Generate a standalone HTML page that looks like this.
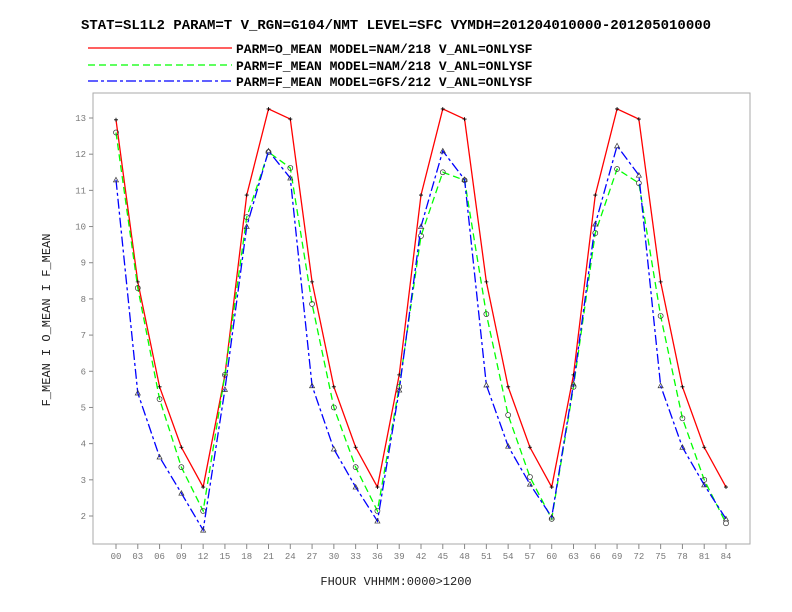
<!DOCTYPE html>
<html><head><meta charset="utf-8"><style>
body{margin:0;background:#fff;}
svg{display:block;font-family:"Liberation Mono","DejaVu Sans Mono",monospace;}
</style></head><body>
<svg id="c" width="792" height="612" viewBox="0 0 792 612">
<text x="396" y="29" text-anchor="middle" font-size="14" font-weight="bold">STAT=SL1L2 PARAM=T V_RGN=G104/NMT LEVEL=SFC VYMDH=201204010000-201205010000</text>
<g>
<line x1="88" y1="48" x2="232" y2="48" stroke="#f00" stroke-width="1.3"/>
<text x="236" y="53" font-size="13" font-weight="bold">PARM=O_MEAN MODEL=NAM/218 V_ANL=ONLYSF</text>
<line x1="88" y1="65" x2="232" y2="65" stroke="#0f0" stroke-width="1.3" stroke-dasharray="7,4"/>
<text x="236" y="70" font-size="13" font-weight="bold">PARM=F_MEAN MODEL=NAM/218 V_ANL=ONLYSF</text>
<line x1="88" y1="81" x2="232" y2="81" stroke="#00f" stroke-width="1.3" stroke-dasharray="10,3,3,3"/>
<text x="236" y="86" font-size="13" font-weight="bold">PARM=F_MEAN MODEL=GFS/212 V_ANL=ONLYSF</text>
</g>
<rect x="93" y="93" width="657" height="451" fill="none" stroke="#aaa" stroke-width="1"/>
<text transform="translate(50,320) rotate(-90)" text-anchor="middle" font-size="12" fill="#222">F_MEAN I O_MEAN I F_MEAN</text>
<text x="396" y="585" text-anchor="middle" font-size="12" fill="#222">FHOUR VHHMM:0000&gt;1200</text>
<g id="axes"></g><g id="series"></g>
</svg>
<script>
const categories=["00","03","06","09","12","15","18","21","24","27","30","33","36","39","42","45","48","51","54","57","60","63","66","69","72","75","78","81","84"];
const yTicks=[2,3,4,5,6,7,8,9,10,11,12,13];
const oMeanNam=[12.95,8.47,5.57,3.9,2.8,5.9,10.87,13.25,12.97,8.47,5.57,3.9,2.8,5.9,10.87,13.25,12.97,8.47,5.57,3.9,2.8,5.9,10.87,13.25,12.97,8.47,5.57,3.9,2.8];
const fMeanNam=[12.6,8.3,5.23,3.35,2.14,5.9,10.26,12.06,11.62,7.86,5.0,3.35,2.14,5.57,9.74,11.5,11.28,7.58,4.79,3.08,1.92,5.57,9.82,11.59,11.2,7.53,4.7,3.0,1.8];
const fMeanGfs=[11.29,5.4,3.63,2.63,1.61,5.5,10.0,12.09,11.34,5.6,3.85,2.8,1.86,5.48,10.0,12.09,11.3,5.62,3.93,2.88,1.97,5.65,10.07,12.23,11.42,5.6,3.9,2.86,1.92];
const NS="http://www.w3.org/2000/svg";
const xs=i=>116+i*(726-116)/(categories.length-1);
const ys=v=>516-(v-2)*(516-118)/11;
const ax=document.getElementById('axes'),sg=document.getElementById('series');
function mk(tag,attrs,parent){const e=document.createElementNS(NS,tag);for(const k in attrs)e.setAttribute(k,attrs[k]);parent.appendChild(e);return e;}
categories.forEach((c,i)=>{
 const t=mk('line',{x1:xs(i),x2:xs(i),y1:544,y2:549,stroke:'#888'},ax);
 
 
 const l=mk('text',{x:xs(i),y:559,'text-anchor':'middle','font-size':9,fill:'#777'},ax);
 
 
 l.textContent=c;
});
yTicks.forEach(v=>{
 const t=mk('line',{x1:89,x2:93,y1:ys(v),y2:ys(v),stroke:'#888'},ax);
 
 
 const l=mk('text',{x:86,y:ys(v)+3,'text-anchor':'end','font-size':9,fill:'#777'},ax);
 
 
 l.textContent=v;
});
function series(vals,color,dash,name,marker){
 const p=mk('polyline',{points:vals.map((v,i)=>xs(i)+','+ys(v)).join(' '),fill:'none',stroke:color,'stroke-width':1.3,'stroke-dasharray':dash},sg);
 
 
 vals.forEach((v,i)=>{
  const x=xs(i),y=ys(v);let m;
  if(marker==='plus')m=mk('path',{d:`M${x-2},${y}H${x+2}M${x},${y-2}V${y+2}`,stroke:'#000','stroke-width':0.8,fill:'none'},sg);
  else if(marker==='circle')m=mk('circle',{cx:x,cy:y,r:2.5,stroke:'#333','stroke-width':0.7,fill:'none'},sg);
  else m=mk('path',{d:`M${x},${y-2.5}L${x+2.5},${y+2}L${x-2.5},${y+2}Z`,stroke:'#333','stroke-width':0.7,fill:'none'},sg);
  
  
 });
}
series(oMeanNam,'#f00','none','o-mean-nam','plus');
series(fMeanNam,'#0f0','7,4','f-mean-nam','circle');
series(fMeanGfs,'#00f','10,3,3,3','f-mean-gfs','tri');
</script>
</body></html>
